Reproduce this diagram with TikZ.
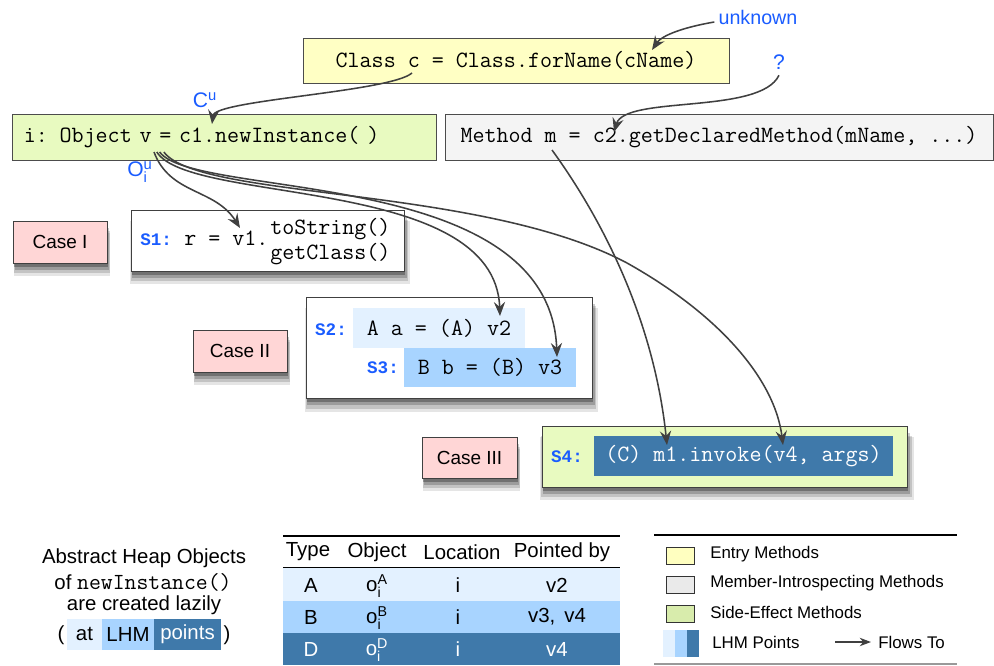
\documentclass[tikz,border=0pt]{standalone}
\usepackage{fontspec}
\setmainfont{Liberation Sans}
\newfontfamily\lblmono{Liberation Mono}
\usetikzlibrary{arrows.meta,shadows}

\newcommand{\jcode}{\ttfamily\fontsize{16.6}{19}\selectfont}
\newcommand{\jlabel}{\lblmono\bfseries\fontsize{12.5}{14}\selectfont}

\begin{document}
\begin{tikzpicture}[x=0.025cm,y=-0.025cm,
    topbox/.style={shape=rectangle,draw=black!70,line width=0.6pt,font=\jcode},
    softshadow/.style={general shadow={fill=black,opacity=0.1,shadow scale=1.025,shadow xshift=1.5pt,shadow yshift=-8.5pt},
                       general shadow={fill=black,opacity=0.15,shadow scale=1.015,shadow xshift=1.5pt,shadow yshift=-7pt},
                       general shadow={fill=black,opacity=0.2,shadow scale=1.005,shadow xshift=1.5pt,shadow yshift=-5pt},
                       general shadow={fill=black,opacity=0.28,shadow xshift=1pt,shadow yshift=-3pt}},
    stmtbox/.style={shape=rectangle,draw=black!75,line width=0.6pt,fill=white,softshadow},
    casebox/.style={stmtbox,fill=case_bg,minimum width=2.35cm,minimum height=1.05cm,font=\fontsize{13.5}{15}\selectfont},
    hlbox/.style={shape=rectangle,fill=#1,inner sep=0pt,font=\jcode},
    slabel/.style={text=label_blue,inner sep=0pt,font=\jlabel},
    note/.style={text=label_blue,inner sep=0pt,font=\fontsize{14}{16}\selectfont},
    bodytext/.style={inner sep=0pt,font=\fontsize{14.5}{17}\selectfont},
    legtext/.style={inner sep=0pt,anchor=west,font=\fontsize{12}{14}\selectfont},
    swatch/.style={shape=rectangle,draw=black!80,line width=0.6pt,fill=#1,minimum width=0.7cm,minimum height=0.425cm},
    flow/.style={draw=flow_gray,line width=1.1pt,-{Stealth[length=10pt,width=8pt,inset=3.5pt]}}]
    \definecolor{entry_bg}{RGB}{255,255,196}
    \definecolor{member_bg}{RGB}{244,244,244}
    \definecolor{sideeff_bg}{RGB}{232,250,192}
    \definecolor{case_bg}{RGB}{255,214,214}
    \definecolor{lhm_a}{RGB}{227,241,255}
    \definecolor{lhm_b}{RGB}{168,212,255}
    \definecolor{lhm_c}{RGB}{63,121,170}
    \definecolor{label_blue}{RGB}{26,92,255}
    \definecolor{flow_gray}{RGB}{64,64,64}
    \definecolor{entry_sw}{RGB}{255,255,192}
    \definecolor{member_sw}{RGB}{234,234,234}
    \definecolor{sideeff_sw}{RGB}{216,236,172}
    \useasboundingbox (0,0) rectangle (994,665);

    \node[topbox,fill=entry_bg,minimum width=10.65cm,minimum height=1.125cm] (entry) at (516,60.5) {Class c = Class.forName(cName)};
    \node[topbox,fill=sideeff_bg,text width=10cm,inner xsep=0.3cm,minimum height=1.15cm,align=left] (newinst) at (224,137) {i: Object v = c1.newInstance( )};
    \node[topbox,fill=member_bg,minimum width=13.7cm,minimum height=1.15cm] (method) at (719,137) {Method m = c2.getDeclaredMethod(mName, ...)};

    \node[note] (unk) at (758,17) {unknown};
    \node[note,font=\fontsize{15}{17}\selectfont] (qmark) at (779,62) {?};
    \node[note,font=\fontsize{15}{17}\selectfont] (cu) at (205,100) {C\textsuperscript{u}};
    \node[note,font=\fontsize{15}{17}\selectfont] (oiu) at (140,172) {$\mathrm{O}^{\mathrm{u}}_{\mathrm{i}}$};

    \node[casebox] (case1) at (60,242) {Case I};
    \node[casebox] (case2) at (240,351) {Case II};
    \node[casebox,minimum width=2.375cm,minimum height=1.025cm] (case3) at (469.5,457.5) {Case III};

    \node[stmtbox,minimum width=6.825cm,minimum height=1.525cm] (s1box) at (267.5,240.5) {};
    \node[slabel,anchor=west] (s1lbl) at (140,240) {S1:};
    \node[inner sep=0pt,font=\jcode,anchor=base west] (s1code) at (184,245) {r = v1.};
    \node[inner sep=0pt,font=\jcode,anchor=base west] (s1tostr) at (270,234) {toString()};
    \node[inner sep=0pt,font=\jcode,anchor=base west] (s1getcl) at (270,259) {getClass()};

    \node[stmtbox,minimum width=7.15cm,minimum height=2.525cm] (s23box) at (449,347.5) {};
    \node[hlbox=lhm_a,minimum width=4.3cm,minimum height=1cm] (s2hl) at (439,328) {A a = (A) v2};
    \node[hlbox=lhm_b,minimum width=4.3cm,minimum height=0.975cm] (s3hl) at (490,367.5) {B b = (B) v3};
    \node[slabel] (s2lbl) at (331,330) {S2:};
    \node[slabel] (s3lbl) at (383,368) {S3:};

    \node[stmtbox,fill=sideeff_bg,minimum width=9.125cm,minimum height=1.525cm] (s4box) at (724.5,456.5) {};
    \node[hlbox=lhm_c,text=white,minimum width=7.475cm,minimum height=1cm] (s4hl) at (743.5,456) {(C) m1.invoke(v4, args)};
    \node[slabel] (s4lbl) at (567,457) {S4:};

    \coordinate (csrc) at (412,73);
    \coordinate (cnametip) at (652,50);
    \coordinate (c1tip) at (212,124);
    \coordinate (c2tip) at (614,132);
    \coordinate (msrc) at (552,150);
    \coordinate (m1tip) at (667,445);
    \coordinate (vsrc) at (154,152);
    \coordinate (v1tip) at (240,228);
    \coordinate (v2tip) at (500,316);
    \coordinate (v3tip) at (557,357);
    \coordinate (v4tip) at (783,445);

    \draw[flow] ([shift={(-4,5)}]unk.west) .. controls (685,27) and (662,35) .. (cnametip);
    \draw[flow] (csrc) .. controls (390,92) and (215,100) .. (c1tip);
    \draw[flow] ([yshift=-4pt]qmark.south) .. controls (760,115) and (625,95) .. (c2tip);
    \draw[flow] (msrc) .. controls (610,230) and (655,330) .. (m1tip);
    \draw[flow] (vsrc) .. controls (170,195) and (215,188) .. (v1tip);
    \draw[flow] ([xshift=2pt]vsrc) .. controls (190,205) and (495,175) .. (v2tip);
    \draw[flow] ([xshift=4pt]vsrc) .. controls (195,200) and (550,165) .. (v3tip);
    \draw[flow] ([xshift=7pt]vsrc) .. controls (200,200) and (480,185) .. (627,263) .. controls (720,315) and (775,380) .. (v4tip);

    \node[bodytext] (heap1) at (144,558) {Abstract Heap Objects};
    \node[bodytext] (heap2) at (143,582) {of {\ttfamily\fontsize{16.4}{19}\selectfont newInstance()}};
    \node[bodytext] (heap3) at (144,605) {are created lazily};
    \node[hlbox=lhm_a,font=\fontsize{14.5}{17}\selectfont,minimum width=0.875cm,minimum height=0.775cm] (hat) at (84.5,634.5) {at};
    \node[hlbox=lhm_b,font=\fontsize{14.5}{17}\selectfont,minimum width=1.3cm,minimum height=0.775cm] (hlhm) at (128,634.5) {LHM};
    \node[hlbox=lhm_c,text=white,font=\fontsize{14.5}{17}\selectfont,minimum width=1.675cm,minimum height=0.775cm] (hpoints) at (187.5,634.5) {points};
    \node[bodytext] (hopen) at (61,635) {(};
    \node[bodytext] (hclose) at (227,635) {)};

    \draw[line width=1.4pt] (283,536) -- (620,536);
    \node[bodytext] (thtype) at (308,552) {Type};
    \node[bodytext] (thobj) at (377,552) {Object};
    \node[bodytext] (thloc) at (462,552) {Location};
    \node[bodytext] (thptr) at (562,552) {Pointed by};
    \draw[line width=1.2pt] (283,567.5) -- (620,567.5);
    \node[hlbox=lhm_a,minimum width=8.425cm,minimum height=0.825cm] (rowA) at (451.5,584.5) {};
    \node[hlbox=lhm_b,minimum width=8.425cm,minimum height=0.8cm] (rowB) at (451.5,617) {};
    \node[hlbox=lhm_c,minimum width=8.425cm,minimum height=0.8cm] (rowD) at (451.5,649) {};
    \node[bodytext] (ta) at (311,585) {A};
    \node[bodytext] (oa) at (377,586) {$\mathrm{o}^{\mathrm{A}}_{\mathrm{i}}$};
    \node[bodytext] (la) at (458,585) {i};
    \node[bodytext] (pa) at (557,585) {v2};
    \node[bodytext] (tb) at (311,617) {B};
    \node[bodytext] (ob) at (377,618) {$\mathrm{o}^{\mathrm{B}}_{\mathrm{i}}$};
    \node[bodytext] (lb) at (458,617) {i};
    \node[bodytext] (pb) at (557,617) {v3,\, v4};
    \node[bodytext,text=white] (td) at (311,649) {D};
    \node[bodytext,text=white] (od) at (377,650) {$\mathrm{o}^{\mathrm{D}}_{\mathrm{i}}$};
    \node[bodytext,text=white] (ld) at (458,649) {i};
    \node[bodytext,text=white] (pd) at (557,649) {v4};

    \draw[line width=1.4pt] (654,535) -- (957,535);
    \draw[line width=0.9pt,black!40] (654,664) -- (957,664);
    \node[swatch=entry_sw] (swentry) at (680,555.5) {};
    \node[swatch=member_sw] (swmember) at (680,585) {};
    \node[swatch=sideeff_sw] (swside) at (680,614) {};
    \node[legtext] (lgentry) at (710,554) {Entry Methods};
    \node[legtext] (lgmember) at (710,583) {Member-Introspecting Methods};
    \node[legtext] (lgside) at (710,612) {Side-Effect Methods};
    \node[hlbox=lhm_a,minimum width=0.3cm,minimum height=0.675cm] (swa) at (669,643.5) {};
    \node[hlbox=lhm_b,minimum width=0.3cm,minimum height=0.675cm] (swb) at (681,643.5) {};
    \node[hlbox=lhm_c,minimum width=0.3cm,minimum height=0.675cm] (swc) at (693,643.5) {};
    \node[legtext] (lglhm) at (712,642) {LHM Points};
    \node[legtext] (lgflow) at (878,642) {Flows To};
    \coordinate (flowsrc) at (835,642);
    \draw[draw=flow_gray,line width=0.9pt,-{Stealth[length=8pt,width=6pt,inset=2.5pt]}] (flowsrc) -- ([xshift=-5pt]lgflow.west);
\end{tikzpicture}
\end{document}
